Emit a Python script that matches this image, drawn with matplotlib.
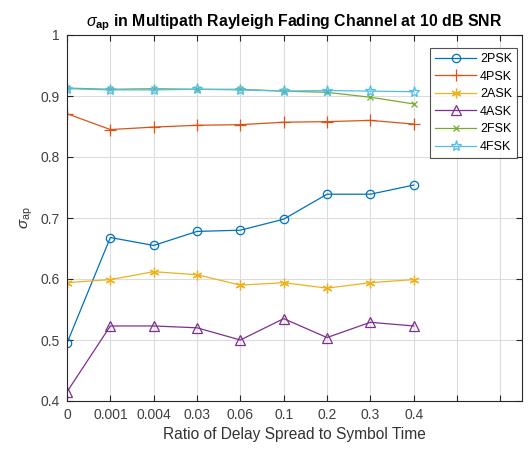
import matplotlib
matplotlib.use("Agg")
import matplotlib.pyplot as plt

plt.rcParams['font.family'] = ['Liberation Sans', 'DejaVu Sans']
plt.rcParams['mathtext.fontset'] = 'custom'
plt.rcParams['mathtext.rm'] = 'Liberation Sans'
plt.rcParams['mathtext.it'] = 'Liberation Sans:italic'
plt.rcParams['mathtext.bf'] = 'Liberation Sans:bold'

ratio_labels = ["0", "0.001", "0.004", "0.03", "0.06", "0.1", "0.2", "0.3", "0.4"]

psk2 = [0.495, 0.668, 0.655, 0.678, 0.680, 0.698, 0.739, 0.739, 0.754]
psk4 = [0.871, 0.845, 0.849, 0.852, 0.853, 0.857, 0.858, 0.860, 0.854]
ask2 = [0.594, 0.599, 0.612, 0.607, 0.590, 0.594, 0.585, 0.594, 0.599]
ask4 = [0.415, 0.523, 0.523, 0.520, 0.500, 0.535, 0.504, 0.529, 0.523]
fsk2 = [0.913, 0.911, 0.912, 0.911, 0.911, 0.908, 0.906, 0.898, 0.887]
fsk4 = [0.912, 0.910, 0.910, 0.911, 0.910, 0.908, 0.909, 0.908, 0.907]

# (label, values, colour, marker, marker size)
series = [
    ("2PSK", psk2, "#0072BD", "o", 6),
    ("4PSK", psk4, "#D95319", "+", 8),
    ("2ASK", ask2, "#EDB120", (6, 2, 0), 7),
    ("4ASK", ask4, "#7E2F8E", "^", 6.5),
    ("2FSK", fsk2, "#77AC30", "x", 5),
    ("4FSK", fsk4, "#4DBEEE", "*", 8),
]

fig = plt.figure(figsize=(5.32, 4.5), dpi=100)
ax = fig.add_axes([67 / 532, 1 - 401 / 450, (522 - 67) / 532, (401 - 35) / 450])

x = list(range(len(ratio_labels)))
for name, vals, color, marker, ms in series:
    ax.plot(x, vals, color=color, marker=marker, markersize=ms,
            markerfacecolor="none", markeredgewidth=0.9,
            linewidth=0.9, label=name)

ticks = list(range(11))
ax.set_xticks(ticks)
ax.set_xticklabels(ratio_labels + [""] * (len(ticks) - len(ratio_labels)))
ax.set_xlim(0, 10.5)
ax.set_ylim(0.4, 1.0)
ax.set_yticks([0.4, 0.5, 0.6, 0.7, 0.8, 0.9, 1.0])
ax.set_yticklabels(["0.4", "0.5", "0.6", "0.7", "0.8", "0.9", "1"])

ax.grid(True, color="#dcdcdc", linewidth=0.8)
ax.set_axisbelow(True)
ax.tick_params(direction="in", top=True, right=True, length=4,
               labelsize=10, colors="#262626", pad=5)
ax.tick_params(labelcolor="#404040")
for s in ax.spines.values():
    s.set_color("#262626")
    s.set_linewidth(0.8)

ax.set_xlabel("Ratio of Delay Spread to Symbol Time", fontsize=11.2,
              color="#333333", labelpad=4)
ax.set_ylabel(r"$\sigma_{\rm ap}$", fontsize=11, color="#333333", labelpad=4)
ax.set_title(r"$\sigma_{\bf ap}$ in Multipath Rayleigh Fading Channel at 10 dB SNR",
             fontsize=11.4, fontweight="bold", color="#000000", pad=6)

leg = ax.legend(loc="upper right", bbox_to_anchor=(0.989, 0.9645),
                borderaxespad=0, fontsize=9, frameon=True, fancybox=False,
                edgecolor="#262626", handlelength=3.3, borderpad=0.4,
                labelspacing=0.45, handletextpad=0.3)
leg.get_frame().set_linewidth(0.8)

fig.savefig("out.png", dpi=100)
